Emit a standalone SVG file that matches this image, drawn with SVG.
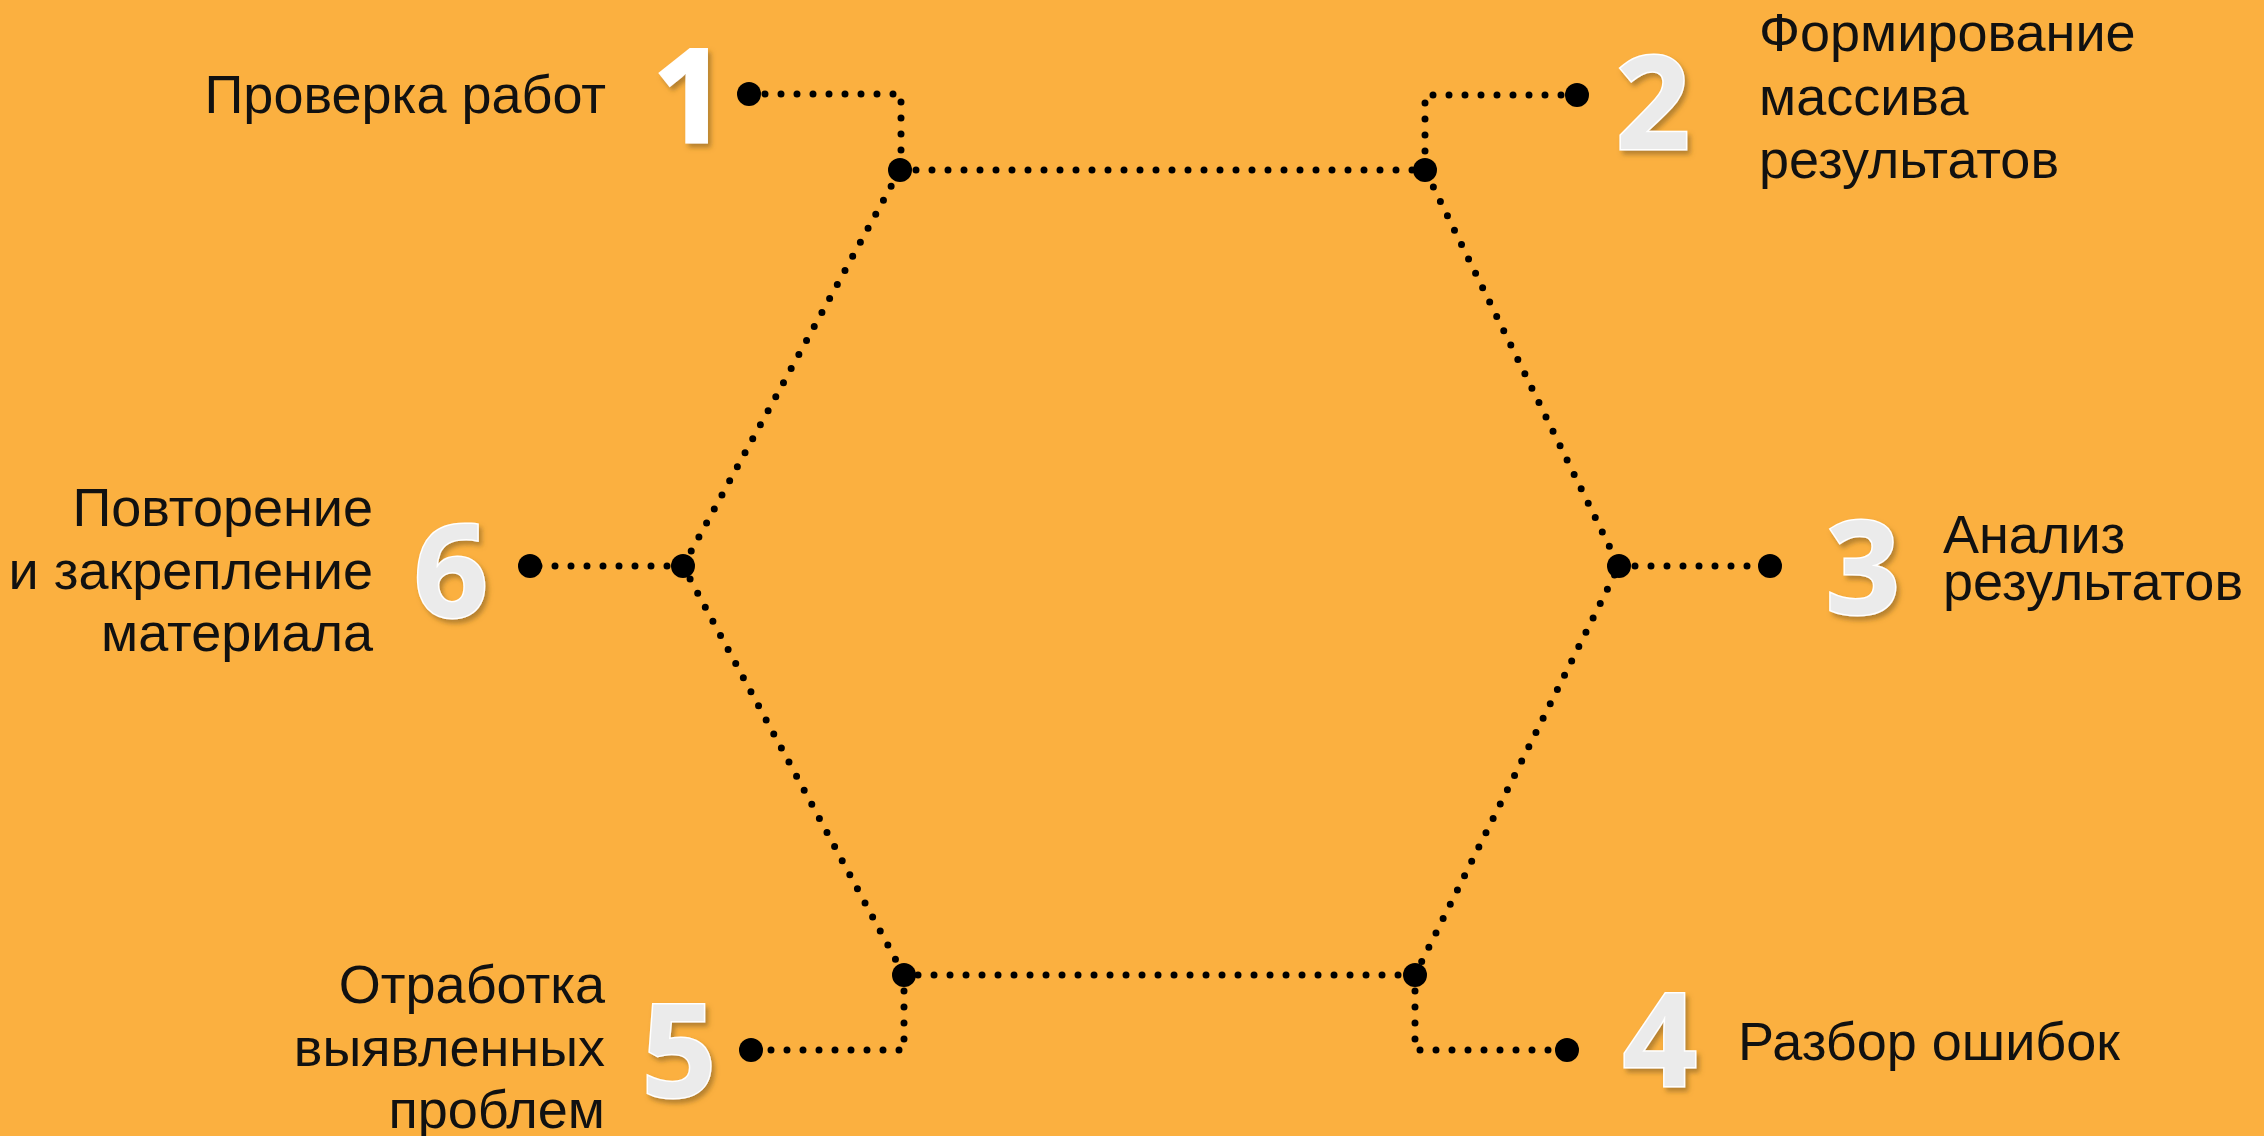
<svg xmlns="http://www.w3.org/2000/svg" width="2264" height="1136" viewBox="0 0 2264 1136">
<defs>
<style>
.dl{fill:none;stroke:#000;stroke-width:7;stroke-linecap:round;stroke-dasharray:0 16}
.bd{fill:#000}
.lbl{font-family:"Liberation Sans",Arial,sans-serif;font-size:54px;fill:#111}
.num{font-family:"Open Sans","Noto Sans",sans-serif;font-weight:700;font-size:130px;fill:#ebebeb;stroke:#fff;stroke-width:3;paint-order:stroke;filter:url(#sh)}
</style>
<filter id="sh" x="-20%" y="-20%" width="150%" height="150%">
<feDropShadow dx="3" dy="4" stdDeviation="2.5" flood-color="#7a5a20" flood-opacity="0.55"/>
</filter>
</defs>
<rect x="0" y="0" width="2264" height="1136" fill="#FBB040"/>
<g id="connectors">
<path class="dl" d="M900 170 L1425 170 L1619 566 L1415 975 L904 975 L683 566 Z"/>
<path class="dl" d="M749 94 L901 94 L901 170"/>
<path class="dl" d="M1577 95 L1425 95 L1425 170"/>
<path class="dl" d="M1619 566 L1770 566"/>
<path class="dl" d="M1415 975 L1415 1050 L1567 1050"/>
<path class="dl" d="M904 975 L904 1050 L751 1050"/>
<path class="dl" d="M683 566 L530 566"/>
<g class="bd">
<circle cx="900" cy="170" r="12"/><circle cx="1425" cy="170" r="12"/>
<circle cx="1619" cy="566" r="12"/><circle cx="1415" cy="975" r="12"/>
<circle cx="904" cy="975" r="12"/><circle cx="683" cy="566" r="12"/>
<circle cx="749" cy="94" r="12"/><circle cx="1577" cy="95" r="12"/>
<circle cx="1770" cy="566" r="12"/><circle cx="1567" cy="1050" r="12"/>
<circle cx="751" cy="1050" r="12"/><circle cx="530" cy="566" r="12"/>
</g>
</g>
<g id="node1">
<text class="num" x="690" y="142" text-anchor="middle" style="fill:#fff">1</text>
<text class="lbl" x="606" y="113" text-anchor="end">Проверка работ</text>
</g>
<g id="node2">
<text class="num" x="1653" y="149" text-anchor="middle">2</text>
<text class="lbl" x="1759" y="51">Формирование</text>
<text class="lbl" x="1759" y="115">массива</text>
<text class="lbl" x="1759" y="178">результатов</text>
</g>
<g id="node3">
<text class="num" x="1863" y="614" text-anchor="middle">3</text>
<text class="lbl" x="1943" y="553">Анализ</text>
<text class="lbl" x="1943" y="600">результатов</text>
</g>
<g id="node4">
<text class="num" x="1660" y="1086" text-anchor="middle">4</text>
<text class="lbl" x="1738" y="1060">Разбор ошибок</text>
</g>
<g id="node5">
<text class="num" x="679" y="1097" text-anchor="middle">5</text>
<text class="lbl" x="605" y="1003" text-anchor="end">Отработка</text>
<text class="lbl" x="605" y="1066" text-anchor="end">выявленных</text>
<text class="lbl" x="605" y="1128" text-anchor="end">проблем</text>
</g>
<g id="node6">
<text class="num" x="451" y="617" text-anchor="middle">6</text>
<text class="lbl" x="373" y="526" text-anchor="end">Повторение</text>
<text class="lbl" x="373" y="589" text-anchor="end">и закрепление</text>
<text class="lbl" x="373" y="651" text-anchor="end">материала</text>
</g>
</svg>
